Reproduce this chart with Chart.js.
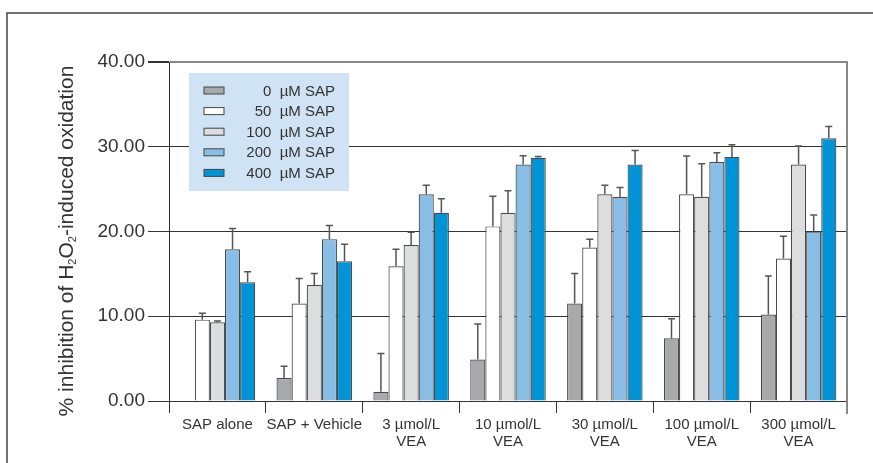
<!DOCTYPE html>
<html lang="en">
<head>
    <meta charset="UTF-8">
    <title>Inhibition of H2O2-induced oxidation</title>
    <script src="https://cdn.jsdelivr.net/npm/chart.js"></script>
    <style>
        body { margin: 0; background: #fff; }
        #wrap { width: 873px; height: 463px; }
    </style>
</head>
<body>
    <div id="wrap"><canvas id="oxChart" width="873" height="463"></canvas></div>

    <script type="text/javascript">
        // data
        var categories = ['SAP alone', 'SAP + Vehicle', ['3 µmol/L', 'VEA'], ['10 µmol/L', 'VEA'],
                          ['30 µmol/L', 'VEA'], ['100 µmol/L', 'VEA'], ['300 µmol/L', 'VEA']];
        var seriesLabels = ['0  µM SAP', '50  µM SAP', '100  µM SAP', '200  µM SAP', '400  µM SAP'];
        var sap0   = [null, 2.7, 1.1, 4.9, 11.5, 7.4, 10.2];
        var sap50  = [9.6, 11.5, 15.9, 20.6, 18.1, 24.4, 16.8];
        var sap100 = [9.3, 13.7, 18.4, 22.2, 24.4, 24.1, 27.9];
        var sap200 = [17.9, 19.1, 24.4, 27.9, 24.1, 28.2, 20.0];
        var sap400 = [14.0, 16.5, 22.2, 28.7, 27.9, 28.8, 31.0];
        // upper error (SD) per bar
        var err0   = [0, 1.4, 4.5, 4.2, 3.55, 2.3, 4.55];
        var err50  = [0.75, 2.95, 2.0, 3.55, 1.0, 4.5, 2.65];
        var err100 = [0.15, 1.35, 1.5, 2.6, 1.05, 3.9, 2.2];
        var err200 = [2.45, 1.6, 1.05, 1.05, 1.1, 1.1, 1.95];
        var err400 = [1.25, 2.0, 1.65, 0.15, 1.65, 1.45, 1.4];
        var yTicks = [0, 10, 20, 30, 40];

        var colors = ['#a7a9ac', '#ffffff', '#dcdddf', '#88bde6', '#0093d6'];
        var series = [sap0, sap50, sap100, sap200, sap400];
        var errors = [err0, err50, err100, err200, err400];

        var FONT = '"Liberation Sans", Arial, sans-serif';
        Chart.defaults.font.family = FONT;
        Chart.defaults.color = '#333';

        // outer frame, right border
        var framePlugin = {
            id: 'frame',
            beforeDraw: function(chart) {
                var ctx = chart.ctx;
                ctx.save();
                ctx.strokeStyle = '#444';
                ctx.lineWidth = 1.5;
                ctx.beginPath();
                ctx.moveTo(7, 463);
                ctx.lineTo(7, 13);
                ctx.lineTo(873, 13);
                ctx.stroke();
                ctx.restore();
            },
            afterDraw: function(chart) {
                var ctx = chart.ctx, a = chart.chartArea;
                ctx.save();
                ctx.strokeStyle = '#888';
                ctx.lineWidth = 2;
                ctx.beginPath();
                ctx.moveTo(a.right, a.top - 1);
                ctx.lineTo(a.right, a.bottom + 13);
                ctx.stroke();
                ctx.restore();
            }
        };

        // only the upper whisker is drawn
        var errorBarPlugin = {
            id: 'errorBars',
            afterDatasetsDraw: function(chart) {
                var ctx = chart.ctx, yScale = chart.scales.y;
                ctx.save();
                ctx.strokeStyle = '#555';
                ctx.lineWidth = 1.5;
                chart.data.datasets.forEach(function(ds, i) {
                    chart.getDatasetMeta(i).data.forEach(function(bar, j) {
                        var v = ds.data[j];
                        if (v == null || !ds.errors[j]) return;
                        var yTop = yScale.getPixelForValue(v + ds.errors[j]);
                        ctx.beginPath();
                        ctx.moveTo(bar.x, bar.y);
                        ctx.lineTo(bar.x, yTop);
                        ctx.moveTo(bar.x - 3.5, yTop);
                        ctx.lineTo(bar.x + 3.5, yTop);
                        ctx.stroke();
                    });
                });
                ctx.restore();
            }
        };

        // legend box inside the plot, labels right aligned
        var legendPlugin = {
            id: 'boxLegend',
            afterDraw: function(chart) {
                var ctx = chart.ctx;
                var bx = 189, by = 73, bw = 160, bh = 118;
                ctx.save();
                ctx.fillStyle = '#cfe3f5';
                ctx.fillRect(bx, by, bw, bh);
                ctx.font = '15px ' + FONT;
                ctx.textAlign = 'right';
                ctx.textBaseline = 'middle';
                chart.data.datasets.forEach(function(ds, i) {
                    var cy = 90.5 + i * 20.6;
                    ctx.fillStyle = ds.backgroundColor;
                    ctx.fillRect(204, cy - 3.5, 20, 7);
                    ctx.strokeStyle = '#444';
                    ctx.lineWidth = 1;
                    ctx.strokeRect(204, cy - 3.5, 20, 7);
                    ctx.fillStyle = '#333';
                    ctx.fillText(ds.label, 335, cy + 1);
                });
                ctx.restore();
            }
        };

        // rotated y title with subscripts
        var yTitlePlugin = {
            id: 'yTitle',
            afterDraw: function(chart) {
                var ctx = chart.ctx;
                var parts = [['% inhibition of H', 0], ['2', 1], ['O', 0], ['2', 1], ['-induced oxidation', 0]];
                var big = '21px ' + FONT, small = '11px ' + FONT;
                ctx.save();
                var total = 0;
                parts.forEach(function(p) { ctx.font = p[1] ? small : big; total += ctx.measureText(p[0]).width; });
                ctx.translate(73, 241);
                ctx.rotate(-Math.PI / 2);
                ctx.fillStyle = '#333';
                ctx.textBaseline = 'alphabetic';
                ctx.textAlign = 'left';
                var x = -total / 2;
                parts.forEach(function(p) {
                    ctx.font = p[1] ? small : big;
                    ctx.fillText(p[0], x, p[1] ? 3 : 0);
                    x += ctx.measureText(p[0]).width;
                });
                ctx.restore();
            }
        };

        var datasets = series.map(function(vals, i) {
            return {
                label: seriesLabels[i],
                data: vals,
                errors: errors[i],
                backgroundColor: colors[i],
                borderColor: '#4a4a4a',
                borderWidth: 1.2,
                categoryPercentage: 0.78,
                barPercentage: 1.0
            };
        });

        var oxCtx = document.getElementById('oxChart').getContext('2d');
        var oxChart = new Chart(oxCtx, {
            type: 'bar',
            data: { labels: categories, datasets: datasets },
            options: {
                responsive: false,
                animation: false,
                layout: { padding: { left: 0, right: 26, top: 62, bottom: 0 } },
                plugins: {
                    legend: { display: false },
                    tooltip: { enabled: false }
                },
                scales: {
                    x: {
                        offset: true,
                        grid: { offset: true, drawOnChartArea: false, drawTicks: true, tickLength: 12, color: '#333' },
                        border: { display: true, color: '#333', width: 1 },
                        ticks: { font: { size: 15, lineHeight: 1.13 }, color: '#333', padding: 3,
                                 maxRotation: 0, minRotation: 0, autoSkip: false },
                        afterFit: function(scale) { scale.height = 62; }
                    },
                    y: {
                        min: 0,
                        max: 40,
                        afterBuildTicks: function(scale) {
                            scale.ticks = yTicks.map(function(v) { return { value: v }; });
                        },
                        ticks: {
                            font: { size: 19 },
                            color: '#333',
                            padding: 3,
                            callback: function(v) { return v.toFixed(2); }
                        },
                        grid: {
                            tickLength: 21,
                            tickColor: '#333',
                            color: function(c) { return c.tick && c.tick.value === 40 ? '#888' : '#333'; },
                            lineWidth: function(c) { return c.tick && c.tick.value === 40 ? 2 : 1; }
                        },
                        border: { display: true, color: '#333', width: 1 },
                        afterFit: function(scale) { scale.width = 169; }
                    }
                }
            },
            plugins: [framePlugin, errorBarPlugin, legendPlugin, yTitlePlugin]
        });
    </script>
</body>
</html>
